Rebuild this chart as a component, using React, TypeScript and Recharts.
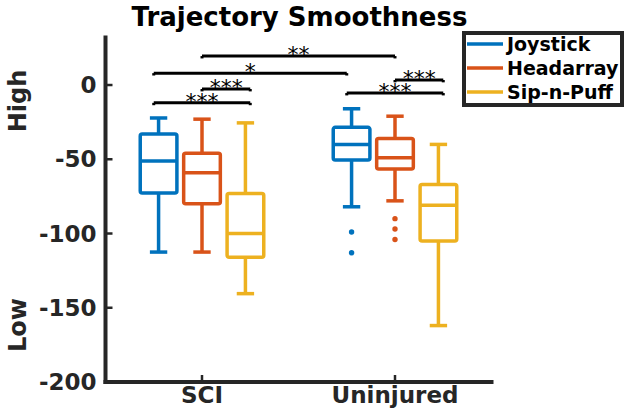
import React from 'react';
import {
  ComposedChart,
  XAxis,
  YAxis,
  ReferenceArea,
  ReferenceLine,
  ReferenceDot,
  Scatter,
  Legend,
} from 'recharts';

// ---- data ----
const categories = ['SCI', 'Uninjured'];
const categoryPositions = [1, 2];
const seriesNames = ['Joystick', 'Headarray', 'Sip-n-Puff'];
const seriesColors = ['#0072BD', '#D95319', '#EDB120'];
const seriesOffsets = [-0.225, 0, 0.225];

// [lower whisker, q1, median, q3, upper whisker] per category
const joystickStats = [
  [-112.5, -72.7, -51.2, -33, -22.2],
  [-82, -50.5, -40, -28.5, -16],
];
const headarrayStats = [
  [-112.5, -80, -59, -46, -23],
  [-78, -56.5, -49, -36, -21],
];
const sipnpuffStats = [
  [-140.5, -116, -100, -73, -25.5],
  [-162, -105, -81, -67, -40],
];
const seriesStats = [joystickStats, headarrayStats, sipnpuffStats];

const joystickOutliers = [
  { x: 2 - 0.225, y: -99 },
  { x: 2 - 0.225, y: -113 },
];
const headarrayOutliers = [
  { x: 2, y: -90 },
  { x: 2, y: -97 },
  { x: 2, y: -104 },
];
const sipnpuffOutliers: { x: number; y: number }[] = [];
const seriesOutliers = [joystickOutliers, headarrayOutliers, sipnpuffOutliers];

const brackets = [
  { x1: 1, x2: 2, y: 19.5, label: '**' },
  { x1: 0.75, x2: 1.75, y: 8, label: '*' },
  { x1: 1, x2: 1.25, y: -2.7, label: '***' },
  { x1: 0.75, x2: 1.25, y: -12, label: '***' },
  { x1: 2, x2: 2.25, y: 3.4, label: '***' },
  { x1: 1.75, x2: 2.25, y: -5.4, label: '***' },
];

const yTicks = [-200, -150, -100, -50, 0];
const yDomain = [-200, 32];
const xDomain = [0.5, 2.5];

// ---- styles ----
const FONT = 'DejaVu Sans';
const AXIS_COLOR = '#262626';
const BOX_HALF = 0.095;
const CAP_HALF = 0.045;
const LW = 3.5;

const YTick = (props: any) => {
  const { x, y, payload } = props;
  return (
    <g>
      <line x1={x} x2={x + 7} y1={y} y2={y} stroke={AXIS_COLOR} strokeWidth={2.5} />
      <text
        x={x - 9}
        y={y}
        dy={8}
        textAnchor="end"
        fontFamily={FONT}
        fontWeight="bold"
        fontSize={23}
        fill={AXIS_COLOR}
      >
        {payload.value}
      </text>
    </g>
  );
};

const XTick = (props: any) => {
  const { x, y, payload } = props;
  const idx = categoryPositions.indexOf(payload.value);
  return (
    <g>
      <line x1={x} x2={x} y1={y} y2={y - 7} stroke={AXIS_COLOR} strokeWidth={2.5} />
      <text
        x={x}
        y={y + 21}
        textAnchor="middle"
        fontFamily={FONT}
        fontWeight="bold"
        fontSize={23}
        fill={AXIS_COLOR}
      >
        {idx >= 0 ? categories[idx] : ''}
      </text>
    </g>
  );
};

const LegendContent = () => (
  <svg width={164} height={78} style={{ display: 'block' }}>
    <rect x={2} y={2} width={158} height={72} fill="#fff" stroke={AXIS_COLOR} strokeWidth={4} />
    {seriesNames.map((name, i) => {
      const cy = 13 + i * 24;
      return (
        <g key={name}>
          <line x1={5} x2={41} y1={cy} y2={cy} stroke={seriesColors[i]} strokeWidth={3.5} />
          <text x={45} y={cy + 7} fontFamily={FONT} fontWeight="bold" fontSize={19} fill="#000">
            {name}
          </text>
        </g>
      );
    })}
  </svg>
);

function boxElements() {
  const els: React.ReactNode[] = [];
  seriesStats.forEach((stats, s) => {
    const color = seriesColors[s];
    stats.forEach((st, c) => {
      const cx = categoryPositions[c] + seriesOffsets[s];
      const [lo, q1, med, q3, hi] = st;
      const key = `${s}-${c}`;
      els.push(
        <ReferenceLine
          key={`wl${key}`}
          segment={[{ x: cx, y: lo }, { x: cx, y: q1 }]}
          stroke={color}
          strokeWidth={LW}
          ifOverflow="visible"
        />,
        <ReferenceLine
          key={`wh${key}`}
          segment={[{ x: cx, y: q3 }, { x: cx, y: hi }]}
          stroke={color}
          strokeWidth={LW}
          ifOverflow="visible"
        />,
        <ReferenceLine
          key={`cl${key}`}
          segment={[{ x: cx - CAP_HALF, y: lo }, { x: cx + CAP_HALF, y: lo }]}
          stroke={color}
          strokeWidth={LW}
          ifOverflow="visible"
        />,
        <ReferenceLine
          key={`ch${key}`}
          segment={[{ x: cx - CAP_HALF, y: hi }, { x: cx + CAP_HALF, y: hi }]}
          stroke={color}
          strokeWidth={LW}
          ifOverflow="visible"
        />,
        <ReferenceArea
          key={`b${key}`}
          x1={cx - BOX_HALF}
          x2={cx + BOX_HALF}
          y1={q1}
          y2={q3}
          fill="#ffffff"
          fillOpacity={1}
          stroke={color}
          strokeWidth={LW}
          strokeLinejoin="round"
          radius={2}
          ifOverflow="visible"
        />,
        <ReferenceLine
          key={`m${key}`}
          segment={[{ x: cx - BOX_HALF, y: med }, { x: cx + BOX_HALF, y: med }]}
          stroke={color}
          strokeWidth={LW}
          ifOverflow="visible"
        />
      );
    });
  });
  return els;
}

function bracketElements() {
  const els: React.ReactNode[] = [];
  brackets.forEach((b, i) => {
    els.push(
      <ReferenceLine
        key={`bh${i}`}
        segment={[{ x: b.x1, y: b.y }, { x: b.x2, y: b.y }]}
        stroke="#000"
        strokeWidth={3}
        ifOverflow="visible"
      />,
      <ReferenceLine
        key={`bl${i}`}
        segment={[{ x: b.x1, y: b.y }, { x: b.x1, y: b.y - 1.6 }]}
        stroke="#000"
        strokeWidth={3}
        ifOverflow="visible"
      />,
      <ReferenceLine
        key={`br${i}`}
        segment={[{ x: b.x2, y: b.y }, { x: b.x2, y: b.y - 1.6 }]}
        stroke="#000"
        strokeWidth={3}
        ifOverflow="visible"
      />,
      <ReferenceDot
        key={`bt${i}`}
        x={(b.x1 + b.x2) / 2}
        y={b.y}
        r={0}
        ifOverflow="visible"
        shape={(p: any) => (
          <text
            x={p.cx}
            y={p.cy + 6}
            textAnchor="middle"
            fontFamily={FONT}
            fontSize={22}
            fill="#000"
          >
            {b.label}
          </text>
        )}
      />
    );
  });
  return els;
}

export default function App() {
  return (
    <div style={{ position: 'absolute', left: 0, top: 0, width: 626, height: 415, background: '#fff' }}>
      <ComposedChart
        width={626}
        height={415}
        margin={{ top: 37.5, right: 134.5, left: 0, bottom: 0 }}
      >
        <XAxis
          type="number"
          dataKey="x"
          domain={xDomain}
          ticks={categoryPositions}
          allowDataOverflow
          height={33}
          tickSize={0}
          tickMargin={0}
          tickLine={false}
          axisLine={{ stroke: AXIS_COLOR, strokeWidth: 4, strokeLinecap: 'square' }}
          tick={<XTick />}
          interval={0}
        />
        <YAxis
          type="number"
          dataKey="y"
          domain={yDomain}
          ticks={yTicks}
          allowDataOverflow
          width={105.5}
          tickSize={0}
          tickMargin={0}
          tickLine={false}
          axisLine={{ stroke: AXIS_COLOR, strokeWidth: 4, strokeLinecap: 'square' }}
          tick={<YTick />}
          interval={0}
        />
        {boxElements()}
        {seriesOutliers.map((pts, s) => (
          <Scatter
            key={`o${s}`}
            name={seriesNames[s]}
            data={pts}
            isAnimationActive={false}
            shape={(p: any) => <circle cx={p.cx} cy={p.cy} r={2.7} fill={seriesColors[s]} />}
          />
        ))}
        {bracketElements()}
        <Legend
          layout="vertical"
          align="center"
          verticalAlign="middle"
          content={<LegendContent />}
          wrapperStyle={{ position: 'absolute', left: 462, top: 31, width: 164, height: 78 }}
        />
      </ComposedChart>
      <svg
        width={626}
        height={415}
        style={{ position: 'absolute', left: 0, top: 0, pointerEvents: 'none' }}
      >
        <text x={299.5} y={26} textAnchor="middle" fontFamily={FONT} fontWeight="bold" fontSize={26} fill="#000">
          Trajectory Smoothness
        </text>
        <text
          transform="translate(26,101) rotate(-90)"
          textAnchor="middle"
          fontFamily={FONT}
          fontWeight="bold"
          fontSize={24}
          fill={AXIS_COLOR}
        >
          High
        </text>
        <text
          transform="translate(26,325) rotate(-90)"
          textAnchor="middle"
          fontFamily={FONT}
          fontWeight="bold"
          fontSize={24}
          fill={AXIS_COLOR}
        >
          Low
        </text>
      </svg>
    </div>
  );
}
